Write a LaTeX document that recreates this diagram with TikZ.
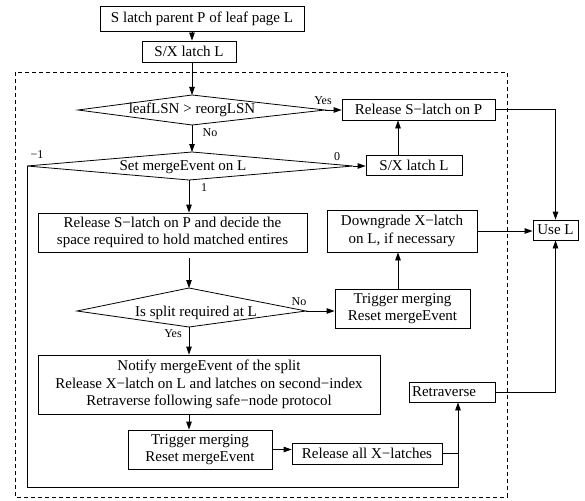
\documentclass[tikz,border=0pt]{standalone}
\usepackage{fontspec}
\setmainfont{Liberation Serif}
\usetikzlibrary{arrows.meta}
\begin{document}
\begin{tikzpicture}[x=1pt,y=-1pt,
  every path/.style={line width=0.8pt},
  box/.style={draw, rectangle, inner sep=0pt, align=center, font=\fontsize{15}{17.5}\selectfont},
  txt/.style={inner sep=0pt, font=\fontsize{15}{17.5}\selectfont},
  lbl/.style={inner sep=0pt, font=\fontsize{12}{14}\selectfont},
  arr/.style={-{Triangle[length=8pt,width=5.5pt]}},
  frame/.style={dashed, dash pattern=on 4pt off 3pt}]
\useasboundingbox (0,0) rectangle (585,500);
% dashed frame
\draw[frame] (15,72) rectangle (507,497);
% boxes
\node[box, minimum width=204pt, minimum height=25pt] (b1) at (202,18.5) {S latch parent P of leaf page L};
\node[box, minimum width=94pt, minimum height=21pt] (b2) at (189,51.5) {S/X latch L};
\node[box, minimum width=153pt, minimum height=21pt] (b3) at (418.5,109.5) {Release S−latch on P};
\node[box, minimum width=96pt, minimum height=20pt] (b4) at (414,165) {S/X latch L};
\node[box, minimum width=269pt, minimum height=39pt] (b5) at (172.5,232.5) {Release S−latch on P and decide the\\space required to hold matched entires};
\node[box, minimum width=150pt, minimum height=42pt] (b6) at (402,231) {Downgrade X−latch\\on L, if necessary};
\node[box, minimum width=45pt, minimum height=20pt] (uL) at (555.5,230) {Use L};
\node[box, minimum width=135pt, minimum height=39pt] (b7) at (402.5,308.5) {Trigger merging\\Reset mergeEvent};
\node[box, minimum width=342pt, minimum height=59pt] (b8) at (209,384.5) {Notify mergeEvent of the split\\Release X−latch on L and latches on second−index\\Retraverse following safe−node protocol};
\node[box, text width=80pt, inner xsep=3pt, minimum height=20pt, align=left] (b9) at (452,392) {Retraverse};
\node[box, minimum width=144pt, minimum height=39pt] (b10) at (200,449.5) {Trigger merging\\Reset mergeEvent};
\node[box, minimum width=150pt, minimum height=21pt] (b11) at (367,453.5) {Release all X−latches};
% diamonds
\coordinate (d1t) at (192,95); \coordinate (d1r) at (325,110);
\coordinate (d1b) at (192,125); \coordinate (d1l) at (78,110);
\draw (d1t) -- (d1r) -- (d1b) -- (d1l) -- cycle;
\node[txt] (d1) at (192,110) {leafLSN > reorgLSN};
\coordinate (d2t) at (192,152); \coordinate (d2r) at (353,166);
\coordinate (d2b) at (189,180); \coordinate (d2l) at (27,166);
\draw (d2t) -- (d2r) -- (d2b) -- (d2l) -- cycle;
\node[txt] (d2) at (183,167) {Set mergeEvent on L};
\coordinate (d3t) at (189,288); \coordinate (d3r) at (306,311);
\coordinate (d3b) at (189,327); \coordinate (d3l) at (77,311);
\draw (d3t) -- (d3r) -- (d3b) -- (d3l) -- cycle;
\node[txt] (d3) at (196,313) {Is split required at L};
% helper coordinates
\coordinate (x192) at (192,0);
\coordinate (x398) at (398,0);
\coordinate (x458) at (458,0);
\coordinate (x555) at (555,0);
\coordinate (loopL) at (27,487);
\coordinate (loopR) at (458,487);
% connectors
\draw[arr] (x192 |- b1.south) -- (x192 |- b2.north);
\draw[arr] (x192 |- b2.south) -- (d1t);
\draw[arr] (d1b) -- (d2t);
\draw[arr] (d2b) -- (d2b |- b5.north);
\draw[arr, shorten <=6pt] (d2b |- b5.south) -- (d3t);
\draw[arr] (d3b) -- (d3b |- b8.north);
\draw[arr] (d3b |- b8.south) -- (d3b |- b10.north);
\draw[arr] (b10.east) -- (b10.east -| b11.west);
\draw (b11.east) -- (x458 |- b11.east);
\draw[arr] (d2l) -- (loopL) -- (loopR) -- (x458 |- b9.south);
\draw[arr] (d1r) -- (d1r -| b3.west);
\draw[arr] (d2r) -- (d2r -| b4.west);
\draw[arr] (x398 |- b4.north) -- (x398 |- b3.south);
\draw[arr] (b3.east) -| (uL.north);
\draw[arr] (b6.east) -- (b6.east -| uL.west);
\draw[arr] (d3r) -- (d3r -| b7.west);
\draw[arr] (x398 |- b7.north) -- (x398 |- b6.south);
\draw[arr] (b9.east) -| (uL.south);
% labels
\node[lbl] (lyes1) at (323,101) {Yes};
\node[lbl] (lno1) at (210,133) {No};
\node[lbl] (lm1) at (37,155) {−1};
\node[lbl] (l0) at (337,157) {0};
\node[lbl] (l1) at (204,188) {1};
\node[lbl] (lno2) at (299,302) {No};
\node[lbl] (lyes2) at (173,334) {Yes};
\end{tikzpicture}
\end{document}
